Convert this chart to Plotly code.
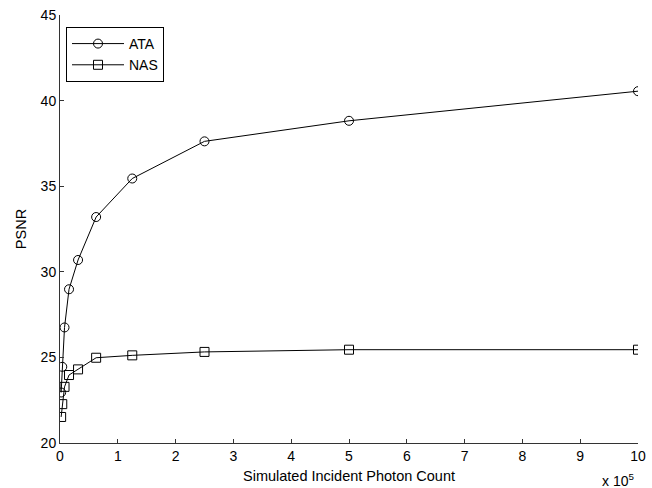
import plotly.graph_objects as go

photon_counts = [1953.125, 3906.25, 7812.5, 15625, 31250, 62500, 125000, 250000, 500000, 1000000]
ata_psnr = [22.95, 24.45, 26.75, 28.98, 30.69, 33.2, 35.45, 37.62, 38.82, 40.55]
nas_psnr = [21.52, 22.27, 23.28, 23.97, 24.3, 24.98, 25.12, 25.32, 25.45, 25.45]
x_tick_vals = [0, 100000, 200000, 300000, 400000, 500000, 600000, 700000, 800000, 900000, 1000000]
x_tick_text = ["0", "1", "2", "3", "4", "5", "6", "7", "8", "9", "10"]
y_tick_vals = [20, 25, 30, 35, 40, 45]

fig = go.Figure()
fig.add_trace(go.Scatter(x=photon_counts, y=ata_psnr, name="ATA", mode="lines+markers",
                         line=dict(color="black", width=1),
                         marker=dict(symbol="circle-open", size=9, color="black", line=dict(width=1))))
fig.add_trace(go.Scatter(x=photon_counts, y=nas_psnr, name="NAS", mode="lines+markers",
                         line=dict(color="black", width=1),
                         marker=dict(symbol="square-open", size=9, color="black", line=dict(width=1))))

axis_common = dict(showgrid=False, zeroline=False, showline=True, linecolor="#333333", linewidth=1,
                   ticks="inside", ticklen=4, tickcolor="#333333", tickfont=dict(size=14, color="black"),
                   automargin=False)
fig.update_xaxes(range=[0, 1000000], tickvals=x_tick_vals, ticktext=x_tick_text,
                 title=dict(text="Simulated Incident Photon Count", font=dict(size=14.5, color="black"), standoff=8),
                 **axis_common)
fig.update_yaxes(range=[20, 45], tickvals=y_tick_vals,
                 title=dict(text="PSNR", font=dict(size=14.5, color="black"), standoff=10),
                 **axis_common)

fig.add_annotation(text="x 10<sup>5</sup>", xref="paper", yref="paper", x=0.965, y=-0.112,
                   xanchor="center", yanchor="bottom", showarrow=False, font=dict(size=14, color="black"))

fig.update_layout(
    width=652, height=488,
    margin=dict(l=60, r=14, t=15, b=45),
    paper_bgcolor="white", plot_bgcolor="white",
    font=dict(family="Liberation Sans, Arial, sans-serif", size=14, color="black"),
    legend=dict(x=0.0104, y=0.972, xanchor="left", yanchor="top", bordercolor="black", borderwidth=1,
                bgcolor="white", font=dict(size=14), tracegroupgap=0, itemwidth=52),
    showlegend=True,
)
fig.write_html("out.html", config={"responsive": False, "displayModeBar": False},
               post_script="document.body.style.margin='0';document.body.style.overflow='hidden';")
